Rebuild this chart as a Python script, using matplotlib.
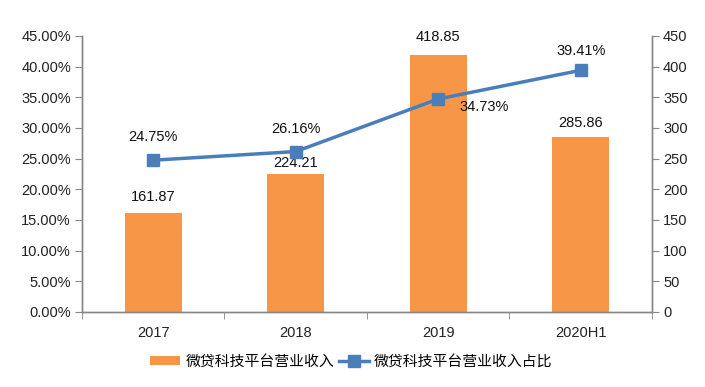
import matplotlib
matplotlib.use("Agg")
import matplotlib.pyplot as plt
from matplotlib.ticker import FuncFormatter
import numpy as np

plt.rcParams['font.family'] = ['Liberation Sans', 'Noto Sans CJK SC', 'DejaVu Sans']

categories = ["2017", "2018", "2019", "2020H1"]
revenue = [161.87, 224.21, 418.85, 285.86]
share = [24.75, 26.16, 34.73, 39.41]
bar_name = "微贷科技平台营业收入"
line_name = "微贷科技平台营业收入占比"

bar_color = "#F79646"
line_color = "#4A7EBB"
axis_color = "#868686"

fig = plt.figure(figsize=(7.05, 3.87), dpi=100)
ax = fig.add_axes([0.1163, 0.1938, 0.8085, 0.7132])
ax2 = ax.twinx()

x = np.arange(len(categories))

# Right axis: bars (revenue)
bars = ax2.bar(x, revenue, width=0.40, color=bar_color, zorder=2, label=bar_name)
ax2.set_ylim(0, 450)
ax2.set_yticks(np.arange(0, 451, 50))

# Left axis: line (share %)
ax.set_ylim(0, 45)
ax.set_yticks(np.arange(0, 46, 5))
ax.yaxis.set_major_formatter(FuncFormatter(lambda v, p: f"{v:.2f}%"))
ax.set_xlim(-0.5, len(categories) - 0.5)
ax.set_xticks(x)
ax.set_xticklabels(categories)
ax.set_xticks(np.arange(-0.5, len(categories), 1), minor=True)
ax.tick_params(axis='x', which='major', length=0, pad=10)
ax.tick_params(axis='x', which='minor', length=5, color=axis_color)

ax.set_zorder(ax2.get_zorder() + 1)
ax.patch.set_visible(False)
line, = ax.plot(x, share, color=line_color, lw=2.5, marker='s', markersize=9,
                label=line_name, zorder=3)

for a in (ax, ax2):
    a.spines['top'].set_visible(False)
    for s in ('left', 'right', 'bottom'):
        a.spines[s].set_color(axis_color)
        a.spines[s].set_linewidth(1)
    a.tick_params(axis='y', length=5, color=axis_color, labelsize=10.5, labelcolor='#222222', pad=3)
ax.tick_params(axis='x', labelsize=10.5, labelcolor='#222222')

# bar labels
bar_offsets = [11, 8, 13, 10]
for i, v in enumerate(revenue):
    ax2.annotate(f"{v:.2f}", (x[i], v), xytext=(0, bar_offsets[i]), textcoords='offset points',
                 ha='center', va='center', fontsize=10.5, color='#111111')

# line labels
line_offsets = [(0, 17), (0, 16), (33, -6), (0, 14)]
for i, v in enumerate(share):
    dx, dy = line_offsets[i]
    ax.annotate(f"{v:.2f}%", (x[i], v), xytext=(dx, dy), textcoords='offset points',
                ha='center', va='center', fontsize=10.5, color='#111111')

handles = [bars, line]
fig.legend(handles, [bar_name, line_name], loc='center', bbox_to_anchor=(0.4986, 0.065),
           ncol=2, frameon=False, handlelength=2.0, handleheight=0.5, columnspacing=0.35,
           handletextpad=0.35, borderpad=0.2,
           prop={'family': ['Noto Sans CJK SC', 'DejaVu Sans'], 'size': 10.7})

fig.savefig("out.png", dpi=100)
